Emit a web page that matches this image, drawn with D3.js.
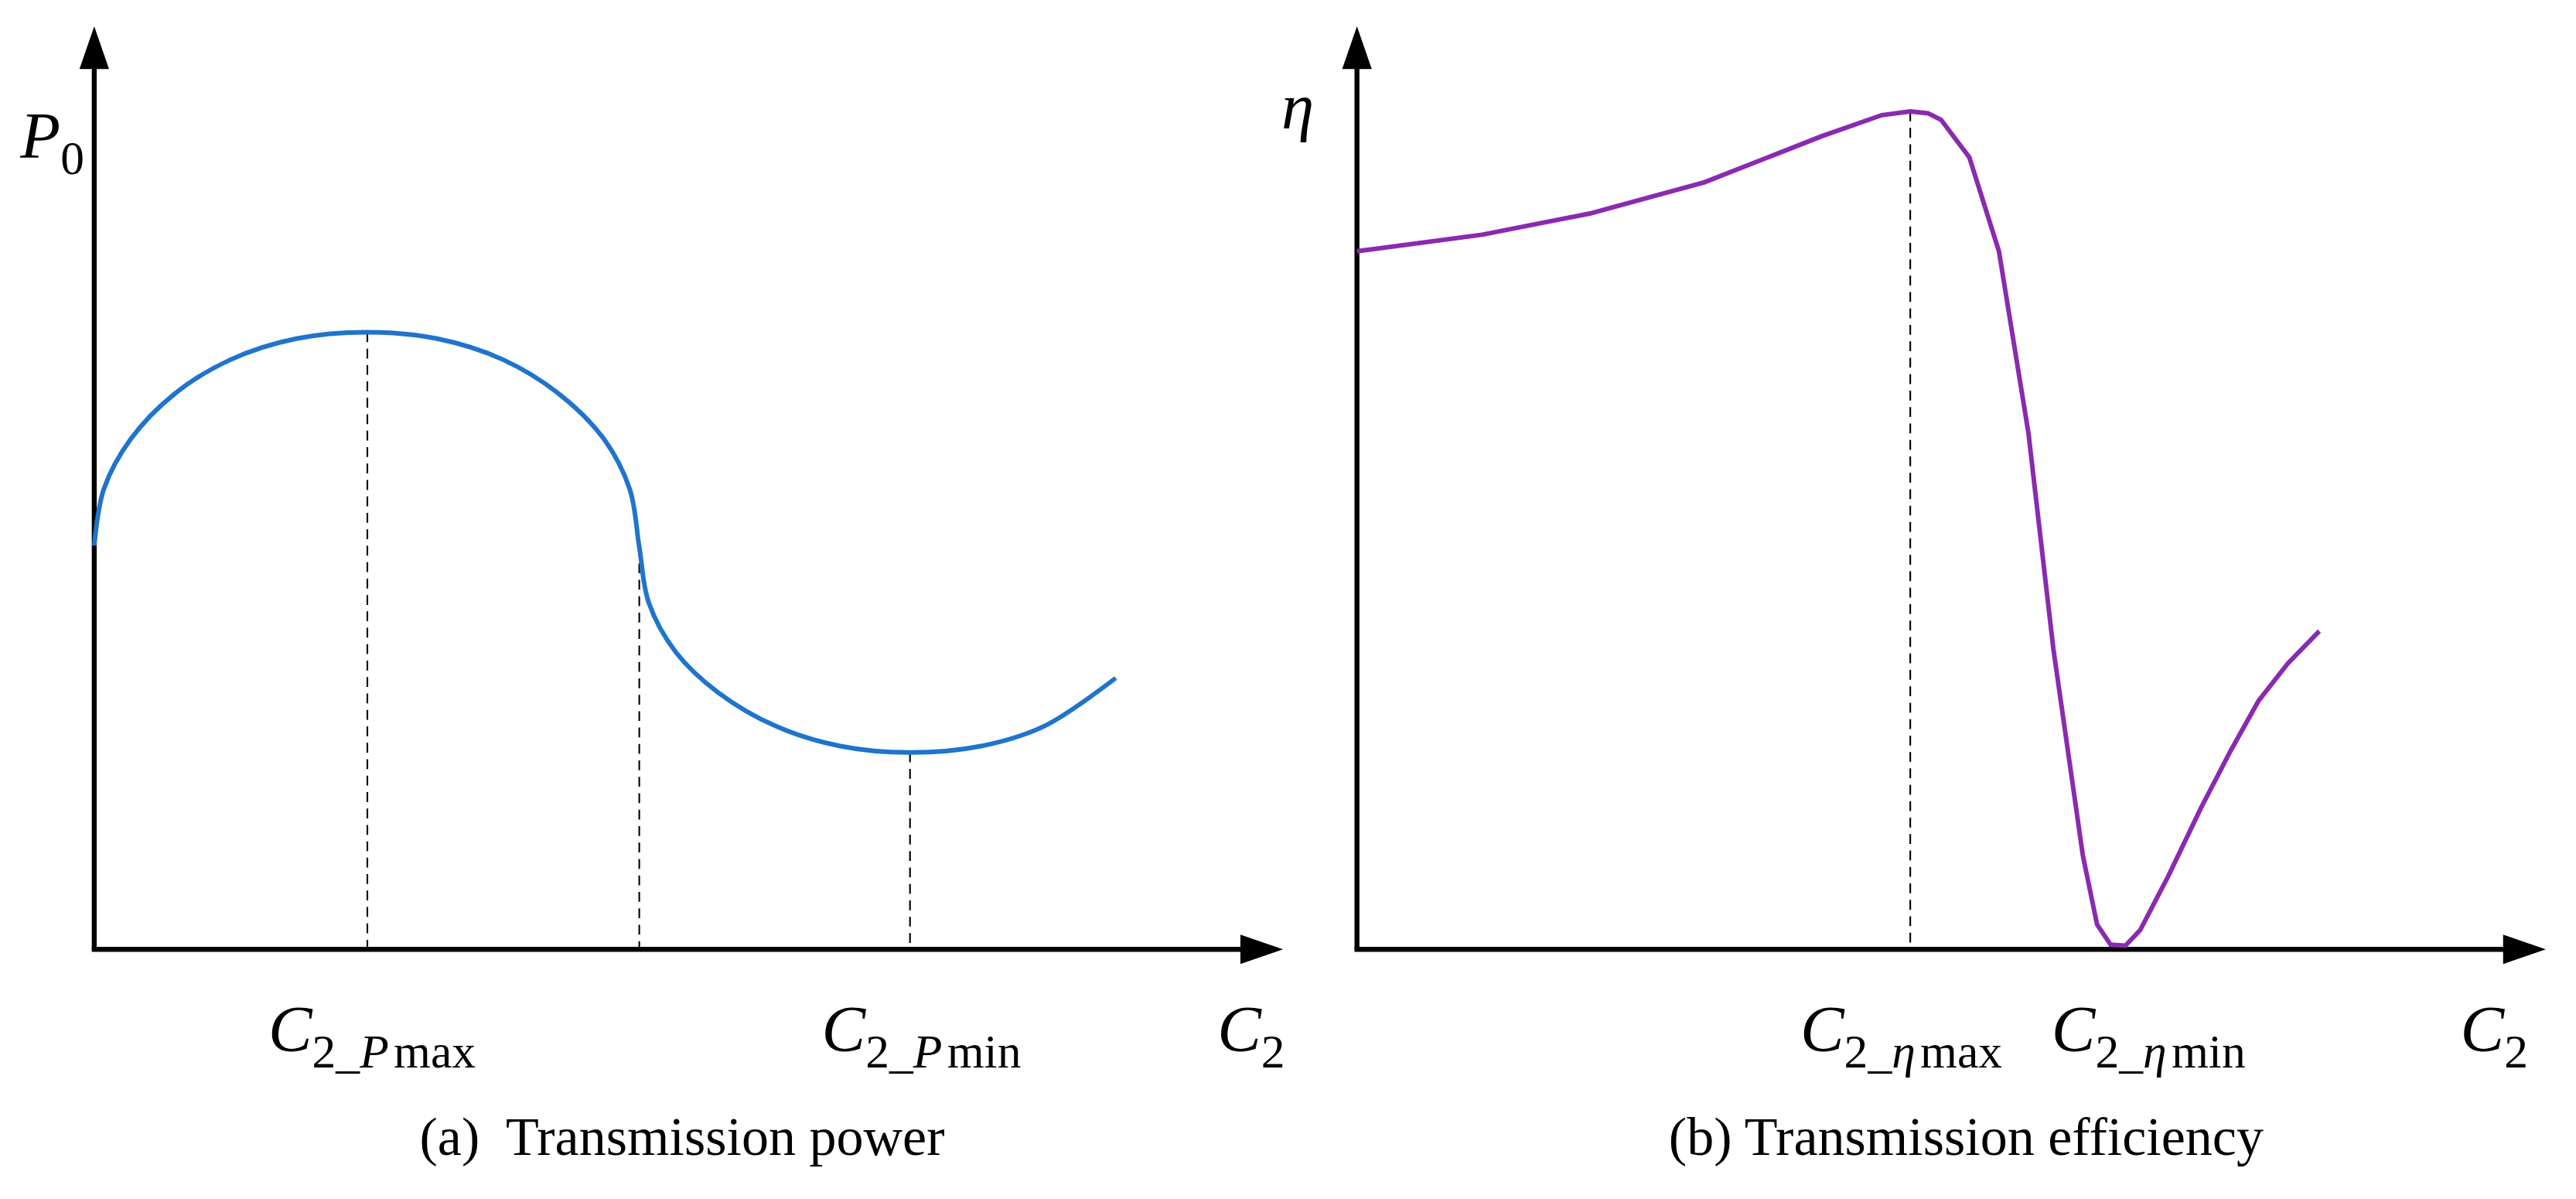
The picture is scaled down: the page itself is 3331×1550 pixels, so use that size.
<!DOCTYPE html>
<html>
<head>
<meta charset="utf-8">
<script src="https://cdnjs.cloudflare.com/ajax/libs/d3/7.8.5/d3.min.js"></script>
<style>
  body { margin: 0; background: #fff; }
  text { font-family: "Liberation Serif", "DejaVu Serif", serif; fill: #000; }
</style>
</head>
<body>
<svg id="chart"></svg>
<script>
// (a) transmission power, normalised C2 / P0 units (0..100)
var powerC2 = [0, 0.8, 3.1, 6.8, 11.5, 17.1, 23.1, 29.0, 34.6, 39.3, 43.1, 45.3, 46.1, 46.9, 49.2, 52.8, 57.6, 63.1, 69.0, 75.0, 80.4, 86.4];
var powerP0 = [43.9, 50, 55.5, 60.4, 64.1, 66.4, 67.1, 66.4, 64.1, 60.4, 55.5, 50, 43.75, 37.7, 32.3, 27.9, 24.3, 22.1, 21.4, 22.1, 24.3, 29.5];
var powerMarks = [23.1, 46.1, 69.0];
var powerMarkVals = [67.1, 43.75, 21.4];

// (b) transmission efficiency
var effC2 = [0, 10.6, 19.7, 29.4, 39.3, 44.4, 46.8, 48.3, 49.4, 51.8, 54.3, 56.8, 58.9, 61.4, 62.6, 63.75, 65, 66.25, 68.6, 71.4, 73.9, 76.25, 78.75, 81.4];
var effEta = [75.9, 77.7, 80, 83.4, 88.4, 90.7, 91.1, 90.9, 90.2, 86.1, 75.9, 56.1, 32.7, 10.2, 2.7, 0.5, 0.4, 2.1, 7.9, 15.4, 21.6, 27, 31.1, 34.6];
var effMarks = [46.8];
var effMarkVals = [91.1];

var W = 1568, H = 730;
var svg = d3.select("#chart")
  .attr("width", 3331).attr("height", 1550)
  .attr("viewBox", "0 0 " + W + " " + H);

var yScale = d3.scaleLinear().domain([0, 100]).range([578, 18]);

function panel(x0, xs, ys, marks, markVals, color, curve) {
  var x = d3.scaleLinear().domain([0, 100]).range([x0, x0 + 720]);
  var g = svg.append("g");
  // axes
  g.append("line").attr("x1", x(0)).attr("y1", yScale(0)).attr("x2", x(0)).attr("y2", yScale(100) + 20)
    .attr("stroke", "#000").attr("stroke-width", 3);
  g.append("line").attr("x1", x(0) - 1.5).attr("y1", yScale(0)).attr("x2", x(100) - 16).attr("y2", yScale(0))
    .attr("stroke", "#000").attr("stroke-width", 3);
  g.append("path").attr("d", d3.line()([[x(0) - 9, yScale(100) + 24], [x(0), yScale(100) - 2], [x(0) + 9, yScale(100) + 24]]) + "Z");
  g.append("path").attr("d", d3.line()([[x(100) - 22, yScale(0) - 9], [x(100) + 4, yScale(0)], [x(100) - 22, yScale(0) + 9]]) + "Z");
  // dashed guides
  g.selectAll(".guide").data(marks).enter().append("line")
    .attr("x1", function(d) { return x(d); }).attr("x2", function(d) { return x(d); })
    .attr("y1", function(d, i) { return yScale(markVals[i]); }).attr("y2", yScale(0))
    .attr("stroke", "#000").attr("stroke-width", 1).attr("stroke-dasharray", "6,4");
  // curve
  var pts = xs.map(function(v, i) { return [x(v), yScale(ys[i])]; });
  g.append("path").attr("d", d3.line().curve(curve)(pts))
    .attr("fill", "none").attr("stroke", color).attr("stroke-width", 2.8);
  return x;
}

var xa = panel(57, powerC2, powerP0, powerMarks, powerMarkVals, "#1f74cc", d3.curveCatmullRom);
var xb = panel(826, effC2, effEta, effMarks, effMarkVals, "#8a2ab0", d3.curveLinear);

function cLabel(x, y, sub, italicSub, rest) {
  var t = svg.append("text").attr("x", x).attr("y", y).style("font-size", "40px");
  t.append("tspan").style("font-style", "italic").text("C");
  var s = t.append("tspan").attr("dy", 10).style("font-size", "29px");
  s.text(sub);
  if (italicSub) {
    t.append("tspan").style("font-size", "29px").style("font-style", "italic").text(italicSub);
    t.append("tspan").style("font-size", "29px").attr("dx", 3).text(rest);
  }
}

cLabel(163, 640, "2_", "P", "max");
cLabel(500, 640, "2_", "P", "min");
cLabel(741, 640, "2");
cLabel(1096, 640, "2_", "\u03b7", "max");
cLabel(1249, 640, "2_", "\u03b7", "min");
cLabel(1498, 640, "2");

var p0 = svg.append("text").attr("x", 12).attr("y", 96).style("font-size", "40px");
p0.append("tspan").style("font-style", "italic").text("P");
p0.append("tspan").attr("dy", 10).style("font-size", "29px").text("0");
svg.append("text").attr("x", 780).attr("y", 78).style("font-size", "40px").style("font-style", "italic").text("\u03b7");

svg.append("text").attr("x", 415).attr("y", 703).attr("text-anchor", "middle").style("font-size", "33px")
  .attr("xml:space", "preserve").text("(a)  Transmission power");
svg.append("text").attr("x", 1197).attr("y", 703).attr("text-anchor", "middle").style("font-size", "33px")
  .text("(b) Transmission efficiency");
</script>
</body>
</html>
